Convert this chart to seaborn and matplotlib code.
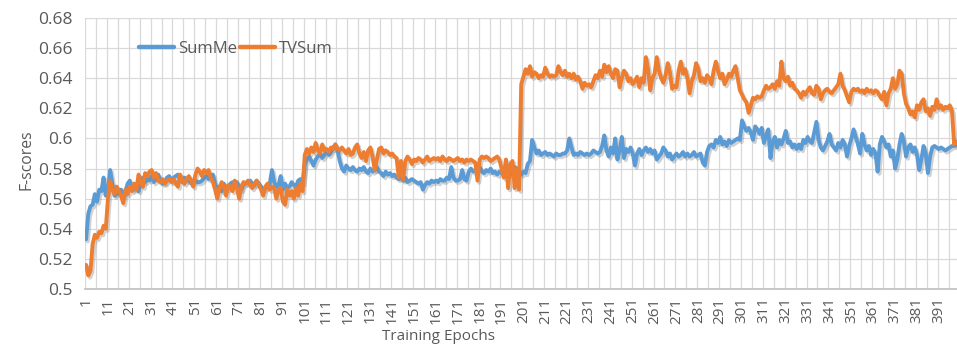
import numpy as np
import pandas as pd
import seaborn as sns
import matplotlib.pyplot as plt
import matplotlib.patheffects as pe
from matplotlib.lines import Line2D

# F-score per training epoch (epochs 1..400)
summe = [
    0.533, 0.550, 0.555, 0.556, 0.563, 0.558, 0.566, 0.565, 0.574, 0.562,
    0.566, 0.579, 0.570, 0.562, 0.564, 0.563, 0.566, 0.562, 0.565, 0.570,
    0.572, 0.567, 0.566, 0.569, 0.565, 0.570, 0.574, 0.571, 0.573, 0.572,
    0.575, 0.571, 0.573, 0.576, 0.572, 0.570, 0.571, 0.574, 0.575, 0.572,
    0.574, 0.575, 0.576, 0.573, 0.571, 0.574, 0.572, 0.573, 0.570, 0.571,
    0.572, 0.571, 0.571, 0.572, 0.574, 0.575, 0.573, 0.575, 0.576, 0.570,
    0.566, 0.568, 0.565, 0.570, 0.566, 0.567, 0.570, 0.571, 0.569, 0.571,
    0.568, 0.566, 0.570, 0.570, 0.571, 0.572, 0.570, 0.569, 0.572, 0.570,
    0.568, 0.566, 0.567, 0.568, 0.570, 0.579, 0.571, 0.568, 0.569, 0.575,
    0.566, 0.570, 0.567, 0.568, 0.571, 0.569, 0.568, 0.572, 0.573, 0.570,
    0.583, 0.586, 0.588, 0.585, 0.582, 0.586, 0.588, 0.590, 0.587, 0.589,
    0.592, 0.589, 0.591, 0.594, 0.596, 0.592, 0.585, 0.580, 0.578, 0.582,
    0.580, 0.579, 0.581, 0.579, 0.578, 0.580, 0.579, 0.581, 0.578, 0.577,
    0.580, 0.578, 0.579, 0.581, 0.578, 0.577, 0.575, 0.578, 0.576, 0.577,
    0.575, 0.576, 0.574, 0.573, 0.575, 0.572, 0.574, 0.571, 0.572, 0.573,
    0.572, 0.571, 0.570, 0.571, 0.566, 0.569, 0.571, 0.570, 0.572, 0.571,
    0.572, 0.571, 0.573, 0.572, 0.572, 0.574, 0.573, 0.581, 0.574, 0.572,
    0.572, 0.573, 0.579, 0.573, 0.572, 0.578, 0.580, 0.578, 0.579, 0.580,
    0.581, 0.578, 0.577, 0.579, 0.578, 0.580, 0.577, 0.578, 0.576, 0.578,
    0.577, 0.579, 0.578, 0.577, 0.576, 0.578, 0.581, 0.580, 0.578, 0.576,
    0.578, 0.577, 0.583, 0.585, 0.599, 0.594, 0.590, 0.592, 0.589, 0.590,
    0.591, 0.589, 0.590, 0.589, 0.588, 0.590, 0.589, 0.589, 0.590, 0.590,
    0.592, 0.600, 0.594, 0.589, 0.590, 0.589, 0.591, 0.590, 0.589, 0.590,
    0.589, 0.590, 0.592, 0.591, 0.590, 0.591, 0.595, 0.602, 0.592, 0.588,
    0.594, 0.590, 0.600, 0.586, 0.592, 0.601, 0.587, 0.593, 0.591, 0.594,
    0.590, 0.582, 0.590, 0.593, 0.589, 0.592, 0.594, 0.591, 0.593, 0.590,
    0.592, 0.586, 0.588, 0.590, 0.594, 0.592, 0.588, 0.590, 0.586, 0.588,
    0.590, 0.588, 0.589, 0.591, 0.588, 0.590, 0.588, 0.589, 0.591, 0.588,
    0.589, 0.590, 0.584, 0.582, 0.591, 0.595, 0.596, 0.594, 0.599, 0.597,
    0.601, 0.596, 0.598, 0.595, 0.599, 0.597, 0.598, 0.599, 0.600, 0.599,
    0.612, 0.608, 0.605, 0.607, 0.604, 0.599, 0.608, 0.606, 0.603, 0.607,
    0.597, 0.602, 0.606, 0.587, 0.598, 0.601, 0.594, 0.599, 0.596, 0.600,
    0.605, 0.597, 0.598, 0.594, 0.596, 0.593, 0.596, 0.593, 0.599, 0.597,
    0.601, 0.598, 0.597, 0.604, 0.611, 0.599, 0.594, 0.592, 0.595, 0.598,
    0.603, 0.596, 0.594, 0.592, 0.597, 0.594, 0.599, 0.596, 0.588, 0.595,
    0.600, 0.606, 0.601, 0.596, 0.590, 0.603, 0.596, 0.592, 0.595, 0.589,
    0.593, 0.590, 0.578, 0.596, 0.601, 0.598, 0.594, 0.596, 0.588, 0.592,
    0.580, 0.586, 0.596, 0.603, 0.598, 0.588, 0.594, 0.596, 0.591, 0.594,
    0.589, 0.579, 0.586, 0.595, 0.590, 0.577, 0.588, 0.594, 0.595, 0.594,
    0.593, 0.594, 0.593, 0.592, 0.593, 0.594, 0.595, 0.595, 0.596, 0.596,
]

tvsum = [
    0.516, 0.509, 0.512, 0.530, 0.536, 0.534, 0.538, 0.537, 0.542, 0.540,
    0.560, 0.572, 0.566, 0.563, 0.568, 0.565, 0.562, 0.557, 0.566, 0.563,
    0.568, 0.565, 0.570, 0.566, 0.576, 0.571, 0.568, 0.577, 0.575, 0.578,
    0.579, 0.574, 0.577, 0.572, 0.571, 0.573, 0.570, 0.572, 0.573, 0.571,
    0.573, 0.570, 0.568, 0.576, 0.572, 0.570, 0.573, 0.575, 0.572, 0.568,
    0.576, 0.580, 0.578, 0.575, 0.579, 0.577, 0.579, 0.574, 0.571, 0.566,
    0.560, 0.567, 0.571, 0.568, 0.562, 0.569, 0.568, 0.565, 0.572, 0.567,
    0.560, 0.568, 0.571, 0.570, 0.572, 0.569, 0.567, 0.570, 0.572, 0.569,
    0.566, 0.562, 0.568, 0.570, 0.566, 0.568, 0.567, 0.560, 0.566, 0.567,
    0.558, 0.556, 0.566, 0.562, 0.565, 0.560, 0.567, 0.562, 0.570, 0.565,
    0.589, 0.593, 0.590, 0.594, 0.591, 0.597, 0.592, 0.590, 0.596, 0.592,
    0.593, 0.591, 0.594, 0.593, 0.596, 0.593, 0.592, 0.594, 0.592, 0.590,
    0.593, 0.589, 0.590, 0.594, 0.596, 0.590, 0.587, 0.591, 0.585, 0.592,
    0.594, 0.588, 0.579, 0.586, 0.593, 0.594, 0.590, 0.592, 0.591, 0.589,
    0.590, 0.588, 0.587, 0.574, 0.585, 0.573, 0.585, 0.588, 0.586, 0.583,
    0.586, 0.585, 0.587, 0.586, 0.584, 0.586, 0.588, 0.585, 0.586, 0.587,
    0.586, 0.587, 0.585, 0.588, 0.586, 0.585, 0.587, 0.586, 0.585, 0.586,
    0.587, 0.585, 0.586, 0.584, 0.586, 0.585, 0.586, 0.585, 0.584, 0.572,
    0.586, 0.588, 0.587, 0.588, 0.587, 0.585, 0.586, 0.587, 0.588, 0.586,
    0.580, 0.574, 0.586, 0.567, 0.583, 0.585, 0.567, 0.580, 0.566, 0.636,
    0.641, 0.646, 0.643, 0.648, 0.641, 0.644, 0.643, 0.640, 0.642, 0.641,
    0.647, 0.643, 0.641, 0.642, 0.641, 0.642, 0.648, 0.644, 0.642, 0.645,
    0.641, 0.643, 0.640, 0.643, 0.639, 0.641, 0.638, 0.633, 0.637, 0.635,
    0.636, 0.634, 0.638, 0.642, 0.640, 0.645, 0.641, 0.649, 0.644, 0.648,
    0.643, 0.640, 0.646, 0.645, 0.634, 0.640, 0.645, 0.643, 0.638, 0.640,
    0.636, 0.638, 0.641, 0.634, 0.640, 0.637, 0.654, 0.646, 0.632, 0.640,
    0.643, 0.654, 0.645, 0.640, 0.637, 0.642, 0.650, 0.644, 0.633, 0.635,
    0.634, 0.645, 0.651, 0.643, 0.646, 0.640, 0.630, 0.638, 0.642, 0.650,
    0.646, 0.638, 0.640, 0.637, 0.642, 0.640, 0.636, 0.645, 0.651, 0.645,
    0.640, 0.643, 0.636, 0.639, 0.643, 0.641, 0.645, 0.648, 0.640, 0.632,
    0.629, 0.626, 0.624, 0.617, 0.622, 0.627, 0.626, 0.628, 0.627, 0.628,
    0.632, 0.635, 0.633, 0.634, 0.636, 0.633, 0.638, 0.635, 0.651, 0.640,
    0.638, 0.641, 0.635, 0.637, 0.633, 0.632, 0.630, 0.627, 0.631, 0.629,
    0.632, 0.634, 0.630, 0.629, 0.635, 0.633, 0.626, 0.630, 0.632, 0.633,
    0.631, 0.630, 0.632, 0.634, 0.636, 0.643, 0.635, 0.632, 0.628, 0.624,
    0.631, 0.633, 0.632, 0.633, 0.631, 0.632, 0.630, 0.633, 0.631, 0.632,
    0.630, 0.632, 0.631, 0.628, 0.626, 0.631, 0.622, 0.630, 0.633, 0.640,
    0.633, 0.636, 0.645, 0.643, 0.630, 0.623, 0.620, 0.616, 0.618, 0.614,
    0.622, 0.619, 0.624, 0.626, 0.618, 0.620, 0.615, 0.621, 0.619, 0.626,
    0.620, 0.622, 0.619, 0.621, 0.620, 0.622, 0.618, 0.596, 0.598, 0.596,
]

series_names = ["SumMe", "TVSum"]
colors = {"SumMe": "#5B9BD5", "TVSum": "#ED7D31"}
y_ticks = [0.5, 0.52, 0.54, 0.56, 0.58, 0.6, 0.62, 0.64, 0.66, 0.68]
y_tick_labels = ["0.5", "0.52", "0.54", "0.56", "0.58", "0.6", "0.62", "0.64", "0.66", "0.68"]
x_tick_values = list(range(1, 392, 10))

epochs = np.arange(1, len(summe) + 1)
df = pd.DataFrame({
    "Epoch": np.concatenate([epochs, epochs]),
    "F-score": summe + tvsum,
    "Dataset": ["SumMe"] * len(summe) + ["TVSum"] * len(tvsum),
})

sns.set_theme(style="white")
plt.rcParams["font.family"] = ["Open Sans", "DejaVu Sans"]

text_color = "#595959"
grid_color = "#D9D9D9"

fig = plt.figure(figsize=(9.57, 3.44), dpi=100)
ax = fig.add_axes([85 / 957, 55 / 344, 872 / 957, 271 / 344])

sns.lineplot(data=df, x="Epoch", y="F-score", hue="Dataset", hue_order=series_names,
             palette=colors, linewidth=2.8, ax=ax, legend=False)

for line in ax.lines:
    line.set_solid_joinstyle("round")
    line.set_path_effects([
        pe.SimpleLineShadow(offset=(1.3, -1.6), shadow_color="#7f7f7f", alpha=0.35),
        pe.Normal(),
    ])

ax.set_xlim(0.5, 399.3)
ax.set_ylim(0.5, 0.68)

ax.set_yticks(y_ticks)
ax.set_yticklabels(y_tick_labels)
ax.set_xticks(x_tick_values)
ax.set_xticklabels([str(v) for v in x_tick_values])
ax.set_xticks(np.arange(0.5, 400, 5), minor=True)

ax.grid(False)
ax.grid(which="minor", axis="x", color=grid_color, linewidth=0.9)
ax.grid(which="major", axis="y", color=grid_color, linewidth=0.9)
ax.set_axisbelow(True)

for side in ("left", "right", "top"):
    ax.spines[side].set_visible(False)
ax.spines["bottom"].set_color("#BFBFBF")
ax.spines["bottom"].set_linewidth(1.2)

ax.tick_params(axis="x", which="both", length=0, pad=6, labelsize=11,
               labelcolor=text_color, labelrotation=90)
ax.tick_params(axis="y", which="both", length=0, pad=9, labelsize=12.5,
               labelcolor=text_color)

ax.set_xlabel("Training Epochs", fontsize=11, color=text_color)
ax.xaxis.label.set_va("center")
ax.xaxis.set_label_coords((439 - 85) / 872, (289 - 337) / 271)
ax.set_ylabel("F-scores", fontsize=11.3, color=text_color)
ax.yaxis.label.set_va("center")
ax.yaxis.set_label_coords((26 - 85) / 872, (289 - 160) / 271)

handles = [Line2D([], [], color=colors[n], linewidth=3.2) for n in series_names]
ax.legend(handles, series_names, loc="center left",
          bbox_to_anchor=((137 - 85) / 872 - 0.015, (289 - 49) / 271),
          ncol=2, frameon=False, handlelength=2.1, handletextpad=0.25,
          columnspacing=0.18, fontsize=12, labelcolor=text_color)

fig.savefig("out.png", dpi=100)
